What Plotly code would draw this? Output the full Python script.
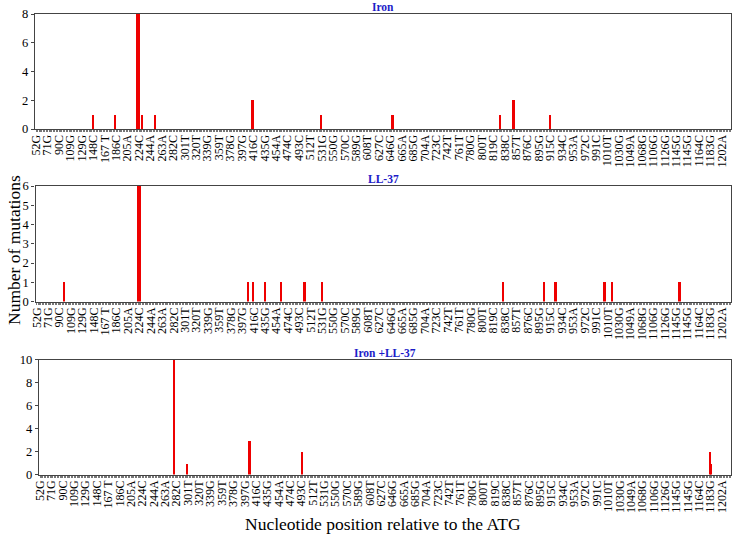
import plotly.graph_objects as go
from plotly.subplots import make_subplots

# tick labels along the x axis (one every ~19 nt, as printed in the figure)
tick_labels = ["52G", "71G", "90C", "109G", "129G", "148C", "167 T", "186C", "205A", "224C",
               "244A", "263A", "282C", "301T", "320T", "339G", "359T", "378G", "397G", "416C",
               "435G", "454A", "474C", "493C", "512T", "531G", "550G", "570C", "589G", "608T",
               "627C", "646G", "665A", "685G", "704A", "723C", "742T", "761T", "780G", "800T",
               "819C", "838C", "857T", "876C", "895G", "915C", "934C", "953A", "972C", "991C",
               "1010T", "1030G", "1049A", "1068G", "1106G", "1126G", "1145G", "1145G", "1164C",
               "1183G", "1202A"]

# bar positions in tick-label steps (0 = 52G), and number of mutations
iron_pos = [4.99, 6.94, 8.87, 9.03, 9.30, 10.40, 18.94, 24.96, 31.2, 40.6, 41.8, 45.0]
iron_cnt = [1, 1, 8, 8, 1, 1, 2, 1, 1, 1, 2, 1]

ll37_pos = [2.37, 8.87, 9.03, 18.47, 18.94, 19.97, 21.38, 23.44, 24.97,
            40.8, 44.4, 45.4, 49.7, 50.35, 56.25]
ll37_cnt = [1, 6, 6, 1, 1, 1, 1, 1, 1,
            1, 1, 1, 1, 1, 1]

both_pos = [11.79, 12.97, 18.43, 23.06, 58.98, 59.07]
both_cnt = [10, 1, 3, 2, 2, 1]

panels = [("Iron", iron_pos, iron_cnt, 8, 2),
          ("LL-37", ll37_pos, ll37_cnt, 6, 1),
          ("Iron +LL-37", both_pos, both_cnt, 10, 2)]

W, H = 740, 535
# pixel boxes of the three plot areas: left, right, top, bottom
boxes = [(35, 731, 14, 129), (35.5, 731, 186, 301.5), (39, 731, 359.5, 474.5)]

fig = make_subplots(rows=3, cols=1)
serif = "Liberation Serif"

for i, (name, pos, cnt, ymax, dy) in enumerate(panels):
    r = i + 1
    fig.add_trace(go.Bar(x=pos, y=cnt, width=0.17, marker_color="#ee0000",
                         marker_line_width=0, showlegend=False), row=r, col=1)
    l, rr, t, b = boxes[i]
    fig.update_xaxes(row=r, col=1, domain=[l / W, rr / W], range=[-0.1, 60.8],
                     tickmode="array", tickvals=list(range(len(tick_labels))),
                     ticktext=tick_labels, tickangle=-90, ticks="", automargin=False,
                     tickfont=dict(family=serif, size=12, color="black"),
                     showgrid=False, zeroline=False, showline=True, mirror=True,
                     linecolor="#444", linewidth=1.3,
                     minor=dict(ticks="outside", ticklen=2, dtick=0.125,
                                tickcolor="#777", tickwidth=0.6))
    fig.update_yaxes(row=r, col=1, domain=[1 - b / H, 1 - t / H], range=[0, ymax],
                     tickmode="linear", tick0=0, dtick=dy, ticks="outside", ticklen=3,
                     tickcolor="#444", automargin=False,
                     tickfont=dict(family=serif, size=12.5, color="black"),
                     showgrid=False, zeroline=False, showline=True, mirror=True,
                     linecolor="#444", linewidth=1.3)
    fig.add_annotation(text=f"<b>{name}</b>", x=(l + rr) / 2 / W, y=1 - (t - 7) / H,
                       xref="paper", yref="paper", showarrow=False,
                       xanchor="center", yanchor="middle",
                       font=dict(family=serif, size=11.5, color="#1c1cc8"))

fig.add_annotation(text="Number of mutations", x=14 / W, y=1 - 250 / H, xref="paper",
                   yref="paper", showarrow=False, textangle=-90,
                   xanchor="center", yanchor="middle",
                   font=dict(family=serif, size=17.5, color="black"))
fig.add_annotation(text="Nucleotide position relative to the ATG", x=383 / W, y=1 - 524 / H,
                   xref="paper", yref="paper", showarrow=False,
                   xanchor="center", yanchor="middle",
                   font=dict(family=serif, size=17.5, color="black"))

fig.update_layout(width=W, height=H, margin=dict(l=0, r=0, t=0, b=0, autoexpand=False),
                  plot_bgcolor="white", paper_bgcolor="white", bargap=0)

# the page body has a default 8px margin; drop it so the figure fills the window
fig.write_html("out.html", config={"displayModeBar": False},
               post_script="document.body.style.margin='0';")
